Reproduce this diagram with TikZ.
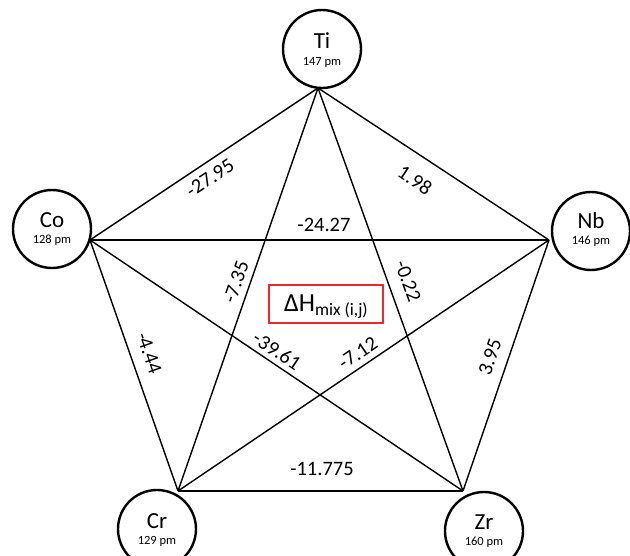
\documentclass[tikz,border=0pt]{standalone}
\usepackage{fontspec}
\setmainfont{Carlito}
\definecolor{boxred}{RGB}{240,40,40}
\begin{document}
\begin{tikzpicture}[x=1pt,y=-1pt,
  elem/.style={draw,circle,line width=2.4pt,minimum size=78pt,inner sep=0pt},
  ename/.style={font=\fontsize{23}{26}\selectfont,inner sep=0pt},
  esize/.style={font=\fontsize{12.5}{14}\selectfont,inner sep=0pt},
  edge/.style={line width=1.4pt},
  val/.style={font=\fontsize{20.5}{24}\selectfont,inner sep=0pt}]
\useasboundingbox (0,0) rectangle (630,556);
% element circles
\node[elem] (Ti) at (322,49) {};
\node[elem] (Co) at (52,229) {};
\node[elem] (Nb) at (591,231) {};
\node[elem] (Cr) at (157,529) {};
\node[elem] (Zr) at (484,531) {};
\node[ename] (tTi) at (322,41) {Ti};
\node[esize] (sTi) at (322,62) {147 pm};
\node[ename] (tCo) at (52,220) {Co};
\node[esize] (sCo) at (52,240) {128 pm};
\node[ename] (tNb) at (591,221) {Nb};
\node[esize] (sNb) at (591,241) {146 pm};
\node[ename] (tCr) at (157,521) {Cr};
\node[esize] (sCr) at (157,541) {129 pm};
\node[ename] (tZr) at (484,522) {Zr};
\node[esize] (sZr) at (484,542) {160 pm};
% connection points
\coordinate (pTi) at (318,88);
\coordinate (pCo) at (90,240);
\coordinate (pNb) at (549,240);
\coordinate (pCr) at (178,491);
\coordinate (pZr) at (463,491);
% connectors
\draw[edge] (pTi) -- (pCo);
\draw[edge] (pTi) -- (pNb);
\draw[edge] (pTi) -- (pCr);
\draw[edge] (pTi) -- (pZr);
\draw[edge] (pCo) -- (pNb);
\draw[edge] (pCo) -- (pCr);
\draw[edge] (pCo) -- (pZr);
\draw[edge] (pNb) -- (pCr);
\draw[edge] (pNb) -- (pZr);
\draw[edge] (pCr) -- (pZr);
% values
\node[val,rotate=33.7] (v1) at (210,178) {-27.95};
\node[val,rotate=-33.3] (v2) at (415,180) {1.98};
\node[val] (v3) at (324,225) {-24.27};
\node[val,rotate=70.8] (v4) at (236,282) {-7.35};
\node[val,rotate=-70.2] (v5) at (408,281) {-0.22};
\node[val,rotate=-70.6] (v6) at (149,353) {-4.44};
\node[val,rotate=-33.8] (v7) at (277,351) {-39.61};
\node[val,rotate=34] (v8) at (358,353) {-7.12};
\node[val,rotate=71] (v9) at (490,357) {3.95};
\node[val] (v10) at (322,469) {-11.775};
% central box
\node[draw=boxred,line width=1.2pt,minimum width=114pt,minimum height=38pt,inner sep=0pt] (box) at (326,304) {};
\node[inner sep=0pt,anchor=base] (hmix) at (326,312) {{\fontsize{26}{30}\selectfont ΔH}\raisebox{-4pt}{\fontsize{17.5}{20}\selectfont mix (i,j)}};
\end{tikzpicture}
\end{document}
